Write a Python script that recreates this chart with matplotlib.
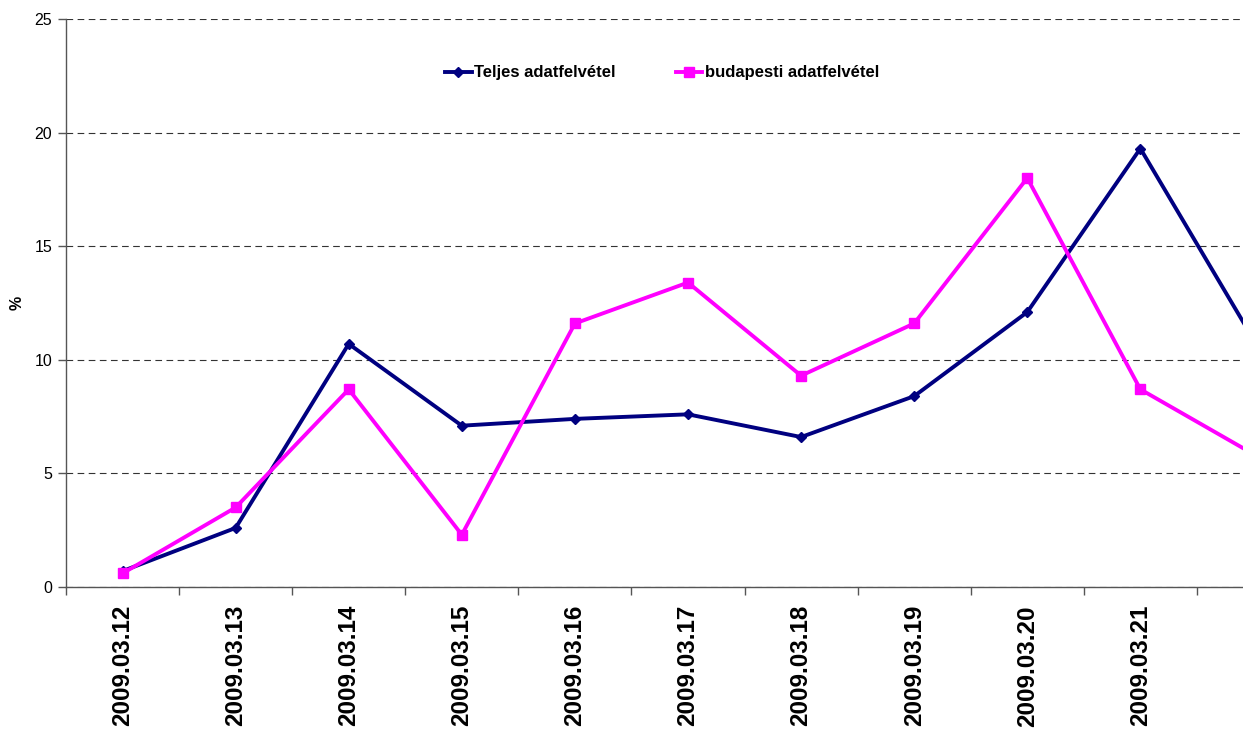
import matplotlib
matplotlib.use("Agg")
import matplotlib.pyplot as plt

categories = ["2009.03.12", "2009.03.13", "2009.03.14", "2009.03.15", "2009.03.16",
              "2009.03.17", "2009.03.18", "2009.03.19", "2009.03.20", "2009.03.21",
              "2009.03.22"]
teljes = [0.7, 2.6, 10.7, 7.1, 7.4, 7.6, 6.6, 8.4, 12.1, 19.3, 10.9]
budapesti = [0.6, 3.5, 8.7, 2.3, 11.6, 13.4, 9.3, 11.6, 18.0, 8.7, 5.85]
yticks = [0, 5, 10, 15, 20, 25]

plt.rcParams['font.family'] = ['Liberation Sans', 'DejaVu Sans']

fig = plt.figure(figsize=(12.43, 7.33), dpi=100)
ax = fig.add_axes([66/1243, (733-587)/733, 1244/1243, (587-19)/733])

x = list(range(len(categories)))
ax.plot(x, teljes, color='#000080', lw=2.8, marker='D', ms=5, label='Teljes adatfelvétel')
ax.plot(x, budapesti, color='#FF00FF', lw=2.8, marker='s', ms=7, label='budapesti adatfelvétel')

ax.set_xlim(-0.5, len(categories) - 0.5)
ax.set_ylim(0, 25)
ax.set_yticks(yticks)
ax.set_yticklabels([str(v) for v in yticks], fontsize=11.5)
ax.yaxis.grid(True, linestyle=(0, (6, 4)), color='#333333', lw=0.8)
ax.set_axisbelow(True)

ax.set_xticks(x)
ax.set_xticklabels(categories, rotation=90, fontsize=17.5, fontweight='bold')
ax.tick_params(axis='x', which='major', length=0, pad=13)
# the last category lies beyond the visible area of the figure
ax.get_xticklabels()[-1].set_visible(False)
ax.set_xticks([i - 0.5 for i in range(len(categories) + 1)], minor=True)
ax.tick_params(axis='x', which='minor', length=6, color='#555555', width=1)
ax.tick_params(axis='y', length=6, color='#555555', width=1, pad=4)

for s in ['top', 'right']:
    ax.spines[s].set_visible(False)
for s in ['left', 'bottom']:
    ax.spines[s].set_color('#555555')
    ax.spines[s].set_linewidth(1)

ax.set_ylabel('%', fontsize=11.5, fontweight='bold')
ax.yaxis.set_label_coords(-41/1244, 0.5)

fig.legend(loc='center', bbox_to_anchor=(662/1243, 1 - 73/733), ncol=2, frameon=False,
           prop={'size': 12, 'weight': 'bold'}, handlelength=1.6, handletextpad=0.15,
           columnspacing=3.6)

fig.savefig('out.png', dpi=100)
